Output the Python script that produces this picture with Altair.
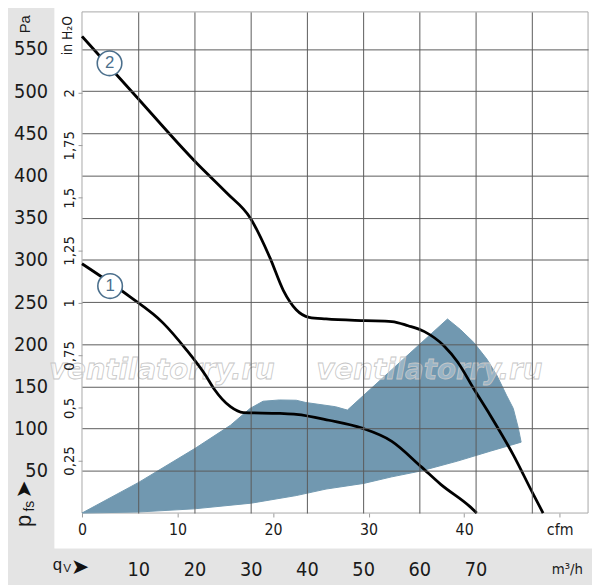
import altair as alt
import pandas as pd

# ---------------- data ----------------
# curve 2: volume flow in m3/h, static pressure in Pa
C2_Q = [0, 8.8, 20.5, 25.8, 29.9, 33.4, 35.8, 38.1, 40.4, 43.4, 50.4, 55.1, 58.0,
        60.9, 64.4, 66.8, 69.7, 72.6, 76.7, 80.2, 82.0]
C2_P = [565, 500, 414, 379, 350, 303, 264, 241, 232, 230, 228, 227, 222,
        215, 198, 179, 147, 116, 69, 23, 0]

# curve 1
C1_Q = [0, 8.5, 14.4, 18.5, 22.0, 23.5, 26.4, 28.7, 35.2, 38.1, 43.9, 49.8, 55.1,
        60.3, 63.8, 69.1, 70.2]
C1_P = [295.5, 256.5, 225.4, 194, 163, 147, 126, 119, 118, 117, 110, 100.6, 85,
        55, 34, 7, 0]

# operating region polygon (outline order)
REG_Q = [0, 10, 20.2, 26.4, 29.9, 32.2, 35.1, 38.1, 39.8, 45.1, 47.2, 55.6, 65.0,
         67.3, 69.7, 72.0, 73.8, 75.5, 76.7, 77.6, 78.1,
         72.6, 66.8, 60.3, 55.1, 50.1, 43.4, 38.1, 30.1, 20.0, 10.0]
REG_P = [0, 36, 77, 104, 124, 132.5, 134, 133.7, 131, 126, 122, 173, 230,
         217.5, 202, 182.5, 163, 139.5, 124, 100.6, 84,
         73.3, 61.6, 49.9, 42.9, 35.1, 28.4, 20.7, 11.7, 5, 1.2]

# curve labels (circled numbers)
LBL_Q = [5.0, 4.9]
LBL_P = [269, 533]
LBL_T = ["1", "2"]

# watermark
WM_Q = [14.2, 61.8]
WM_P = [159, 159]
WM_T = ["ventilatorry.ru", "ventilatorry.ru"]

# axis ticks
PA_TICKS = [50, 100, 150, 200, 250, 300, 350, 400, 450, 500, 550]
M3H_TICKS = [10, 20, 30, 40, 50, 60, 70, 80]
CFM_TICKS = [0, 10, 20, 30, 40, 50]
INH2O_TICKS = [0.25, 0.5, 0.75, 1, 1.25, 1.5, 1.75, 2]

CFM_TO_M3H = 1.69901
PA_PER_INH2O = 249.089

# ---------------- layout / style ----------------
W, H = 513, 508
Y_MAX = 594
GREY_BG = "#e4e4e4"
BLUE = "#7198b0"
SLATE = "#4b6f8c"
GRID = "#5a5a5a"
NARROW = "Liberation Sans Narrow, Arial Narrow, DejaVu Sans Condensed, sans-serif"
SANS = "Liberation Sans, Arial, sans-serif"

XS = alt.Scale(domain=[0, 90], nice=False, zero=False)
YS = alt.Scale(domain=[0, Y_MAX], nice=False, zero=False)

AX_M3H = alt.Axis(orient="bottom", values=M3H_TICKS, grid=True, gridColor=GRID,
                  gridWidth=1, domain=False, ticks=False, tickSize=0,
                  labelPadding=57, labelFontSize=20, labelFont=NARROW,
                  labelColor="#1a1a1a", labelBaseline="middle",
                  labelExpr="datum.value <= 70 ? datum.label : ''",
                  labelFlush=False, labelOverlap=False, title=None, zindex=1)
AX_PA = alt.Axis(orient="left", values=PA_TICKS, grid=True, gridColor=GRID,
                 gridWidth=1, domain=False, ticks=False, tickSize=0,
                 labelPadding=35, labelFontSize=20, labelFont=NARROW,
                 labelColor="#1a1a1a", labelBaseline="middle", labelAlign="right",
                 labelFlush=False, labelOverlap=False, title=None, zindex=1)
AX_CFM = alt.Axis(orient="bottom", values=[c * CFM_TO_M3H for c in CFM_TICKS],
                  grid=False, domain=False, ticks=True, tickSize=4, tickColor="#9a9a9a",
                  labelPadding=13, labelFontSize=16, labelFont=NARROW,
                  labelColor="#1a1a1a", labelBaseline="middle",
                  labelExpr=f"datum.value > 80 ? 'cfm' : format(datum.value / {CFM_TO_M3H}, '.0f')",
                  labelFlush=False, labelOverlap=False, title=None, zindex=1)
AX_H2O = alt.Axis(orient="left", values=[v * PA_PER_INH2O for v in INH2O_TICKS],
                  grid=False, domain=False, ticks=True, tickSize=4, tickColor="#9a9a9a",
                  labelPadding=5, labelFontSize=15, labelFont=NARROW,
                  labelColor="#1a1a1a", labelAngle=270, labelAlign="center",
                  labelBaseline="alphabetic",
                  labelExpr=f"replace(format(datum.value / {PA_PER_INH2O}, '.2~f'), '.', ',')",
                  labelFlush=False, labelOverlap=False, title=None, zindex=1)

ONE = pd.DataFrame({"a": [0]})
df1 = pd.DataFrame({"q": C1_Q, "p": C1_P})
df2 = pd.DataFrame({"q": C2_Q, "p": C2_P})
dfr = pd.DataFrame({"q": REG_Q, "p": REG_P, "i": list(range(len(REG_Q)))})
dfl = pd.DataFrame({"q": LBL_Q, "p": LBL_P, "t": LBL_T})
dfw = pd.DataFrame({"q": WM_Q, "p": WM_P, "t": WM_T})

# white panel and frame (decoration)
panel = alt.Chart(ONE).mark_rect(color="white").encode(
    x=alt.value(-28), x2=alt.value(520), y=alt.value(-10), y2=alt.value(544))
frame = alt.Chart(ONE).mark_rect(fill="white", stroke="#a8a8a8", strokeWidth=1).encode(
    x=alt.value(0), x2=alt.value(W), y=alt.value(0), y2=alt.value(H))

region = alt.Chart(dfr).mark_line(interpolate="linear-closed", fill=BLUE, stroke=BLUE,
                                  strokeWidth=1).encode(
    x=alt.X("q:Q", scale=XS, axis=AX_CFM),
    y=alt.Y("p:Q", scale=YS, axis=AX_H2O),
    order="i:Q")

wm = alt.Chart(dfw).mark_text(font="DejaVu Sans", fontStyle="italic", fontWeight="bold",
                              fontSize=28, fill="white", fillOpacity=0.3,
                              stroke="#c6c6c6", strokeWidth=0.8,
                              align="center", baseline="alphabetic").encode(
    x=alt.X("q:Q", scale=XS, axis=None),
    y=alt.Y("p:Q", scale=YS, axis=None),
    text="t:N")

curve1 = alt.Chart(df1).mark_line(color="black", strokeWidth=2.8,
                                  interpolate="monotone").encode(
    x=alt.X("q:Q", scale=XS, axis=AX_M3H),
    y=alt.Y("p:Q", scale=YS, axis=AX_PA))
curve2 = alt.Chart(df2).mark_line(color="black", strokeWidth=2.8,
                                  interpolate="monotone").encode(
    x=alt.X("q:Q", scale=XS, axis=None),
    y=alt.Y("p:Q", scale=YS, axis=None))

circles = alt.Chart(dfl).mark_point(shape="circle", size=620, filled=True, fill="white",
                                    stroke=SLATE, strokeWidth=1.6, opacity=1).encode(
    x=alt.X("q:Q", scale=XS, axis=None),
    y=alt.Y("p:Q", scale=YS, axis=None))
circle_txt = alt.Chart(dfl).mark_text(font=SANS, fontSize=17, color=SLATE,
                                      align="center", baseline="middle").encode(
    x=alt.X("q:Q", scale=XS, axis=None),
    y=alt.Y("p:Q", scale=YS, axis=None),
    text="t:N")


def label(txt, x, y, size, angle=0, font=NARROW, align="center", baseline="middle",
          color="#1a1a1a"):
    return alt.Chart(ONE).mark_text(text=txt, fontSize=size, angle=angle, font=font,
                                    align=align, baseline=baseline, color=color).encode(
        x=alt.value(x), y=alt.value(y))


decor = [
    label("Pa", -57.5, 12.5, 15, angle=270, font=SANS),
    label("in H\u2082O", -14.5, 24, 14, angle=270, font=NARROW),
    label("\u27a4", -58.5, 484, 22, angle=270, font="DejaVu Sans", color="#111"),
    label("p", -59, 516, 22, angle=270, font=SANS),
    label("fs", -53, 501, 14, angle=270, font=SANS),
    label("q", -25, 561, 17, font=SANS),
    label("V", -15, 564, 12, font=SANS),
    label("\u27a4", -2, 563, 22, font="DejaVu Sans", color="#111"),
    label("m\u00b3/h", 492, 565, 15, font=NARROW),
]

chart = alt.layer(panel, frame, region, wm, curve1, curve2, circles, circle_txt,
                  *decor).resolve_axis(x="independent", y="independent").properties(
    width=W, height=H,
    autosize=alt.AutoSizeParams(type="none"),
    padding={"left": 75, "top": 0, "right": 4, "bottom": 69},
    background=GREY_BG,
).configure_view(strokeWidth=0)

chart.save("out.html", embed_options={"renderer": "svg", "actions": False})
